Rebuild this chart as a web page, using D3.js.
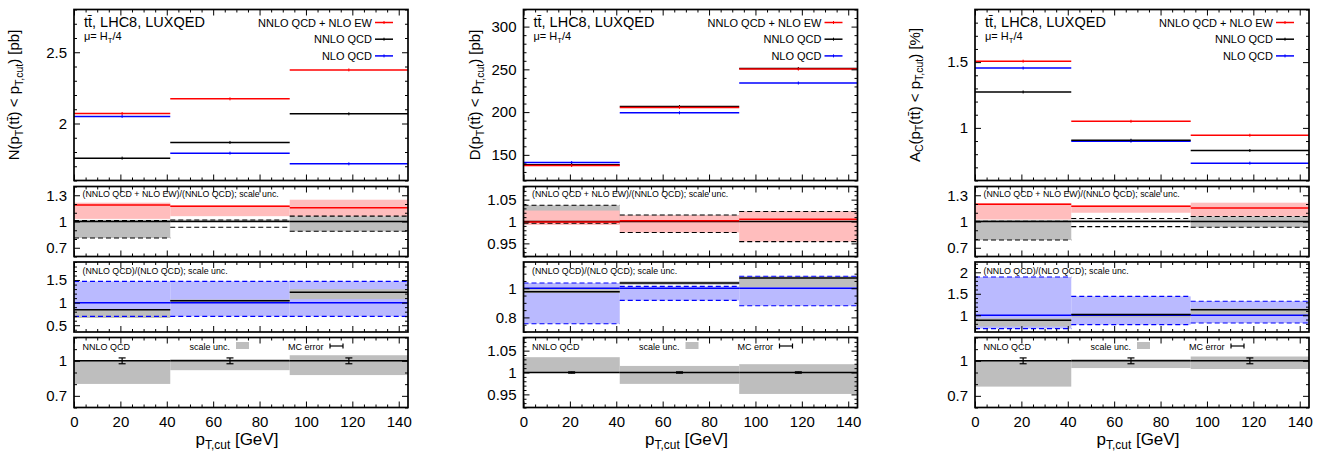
<!DOCTYPE html>
<html><head><meta charset="utf-8">
<script src="https://cdn.jsdelivr.net/npm/d3@7"></script>
<style>
body{margin:0;background:#fff}
svg{display:block}
text{font-family:"Liberation Sans",Arial,Helvetica,sans-serif;fill:#000}
</style>
</head><body>
<svg id="c" width="1327" height="454"></svg>
<script>
// ---------- shared data ----------
const binEdges = [0, 41.5, 93, 144];
const binCenters = [20.75, 67.25, 118.5];
const xTickValues = [0, 20, 40, 60, 80, 100, 120, 140];
const unity = [1, 1, 1];

// ---------- panel N (cross section) ----------
const nTopTicks = [2, 2.5];
const nNNLOEW = [2.07, 2.173, 2.376];
const nNNLO = [1.757, 1.867, 2.068];
const nNLO = [2.05, 1.792, 1.717];
const nR1Ticks = [0.7, 1, 1.3];
const nR1Ratio = [1.19, 1.173, 1.157];
const nR1RedLo = [1.03, 1.061, 1.061];
const nR1RedHi = [1.215, 1.185, 1.249];
const nR1GrayLo = [0.811, 1.0, 0.888];
const nR1GrayHi = [1.018, 1.02, 1.061];
const nR1DashLo = [0.811, 0.934, 0.888];
const nR1DashHi = [1.01, 1.018, 1.061];
const nR2Ticks = [0.5, 1, 1.5];
const nR2Ratio = [0.843, 1.044, 1.228];
const nR2GrayLo = [0.66, 1.02, 1.08];
const nR2GrayHi = [0.85, 1.07, 1.30];
const nR2BlueLo = [0.697, 0.697, 0.697];
const nR2BlueHi = [1.47, 1.47, 1.47];
const nR3Ticks = [0.7, 1];
const nR3Lo = [0.802, 0.92, 0.878];
const nR3Hi = [1.0, 1.014, 1.048];
const nR3Err = [0.025, 0.025, 0.025];

// ---------- panel D (denominator) ----------
const dTopTicks = [150, 200, 250, 300];
const dNNLOEW = [137.5, 205.5, 250.3];
const dNNLO = [138.5, 206.5, 251];
const dNLO = [141, 199.2, 234];
const dR1Ticks = [0.95, 1, 1.05];
const dR1Ratio = [0.999, 1.002, 1.005];
const dR1RedLo = [0.992, 0.975, 0.954];
const dR1RedHi = [1.025, 1.014, 1.023];
const dR1GrayLo = [0.997, 1.0, 1.0];
const dR1GrayHi = [1.037, 1.015, 1.023];
const dR1DashLo = [0.996, 0.975, 0.954];
const dR1DashHi = [1.037, 1.015, 1.023];
const dR2Ticks = [0.8, 1];
const dR2Ratio = [0.976, 1.036, 1.07];
const dR2GrayLo = [0.967, 1.024, 1.008];
const dR2GrayHi = [1.006, 1.047, 1.08];
const dR2BlueLo = [0.757, 0.917, 0.88];
const dR2BlueHi = [1.036, 1.013, 1.082];
const dR3Ticks = [0.95, 1, 1.05];
const dR3Lo = [1.0, 0.974, 0.951];
const dR3Hi = [1.035, 1.015, 1.019];
const dR3Err = [0.0015, 0.0015, 0.0015];

// ---------- panel A (asymmetry) ----------
const aTopTicks = [1, 1.5];
const aNNLOEW = [1.507, 1.05, 0.944];
const aNNLO = [1.273, 0.906, 0.828];
const aNLO = [1.455, 0.899, 0.732];
const aR1Ticks = [0.7, 1, 1.3];
const aR1Ratio = [1.196, 1.173, 1.153];
const aR1RedLo = [1.023, 1.10, 1.061];
const aR1RedHi = [1.211, 1.185, 1.215];
const aR1GrayLo = [0.788, 1.0, 0.934];
const aR1GrayHi = [1.018, 1.02, 1.058];
const aR1DashLo = [0.788, 0.942, 0.934];
const aR1DashHi = [1.003, 1.035, 1.058];
const aR2Ticks = [1, 1.5, 2];
const aR2Ratio = [0.884, 1.016, 1.13];
const aR2GrayLo = [0.74, 0.95, 1.0];
const aR2GrayHi = [0.93, 1.03, 1.16];
const aR2BlueLo = [0.689, 0.781, 0.82];
const aR2BlueHi = [1.89, 1.44, 1.326];
const aR3Ticks = [0.7, 1];
const aR3Lo = [0.779, 0.938, 0.93];
const aR3Hi = [1.0, 1.014, 1.037];
const aR3Err = [0.025, 0.025, 0.025];

// ---------- text ----------
const titleText = "tt\u0304, LHC8, LUXQED";
const muParts = [["\u03bc= H"], ["T", 1], ["/4"]];
const legendLabels = ["NNLO QCD + NLO EW", "NNLO QCD", "NLO QCD"];
const r1Label = "(NNLO QCD + NLO EW)/(NNLO QCD); scale unc.";
const r2Label = "(NNLO QCD)/(NLO QCD); scale unc.";
const r3Labels = ["NNLO QCD", "scale unc.", "MC error"];
const xTitleParts = [["p"], ["T,cut", 1], [" [GeV]"]];

// ---------- styles ----------
const RED = "#ff0000", BLUE = "#0000ff", PINK = "#ffbdbd", LBLUE = "#babaff", GRAY = "#bebebe";
const W = 334;
const rows = { top: [9.5, 180.5], r1: [186.5, 256.5], r2: [262, 332], r3: [337.5, 407.5] };

const panels = [
  { left: 74, ylab: [["N(p"], ["T", 1], ["(tt\u0304) < p"], ["T,cut", 1], [") [pb]"]], ylabX: -55,
    top: { dom: [1.6, 2.8], major: nTopTicks, minor: 0.1, ew: nNNLOEW, nnlo: nNNLO, nlo: nNLO },
    r1: { dom: [0.6, 1.4], major: nR1Ticks, minor: 0.1, ratio: nR1Ratio, redLo: nR1RedLo, redHi: nR1RedHi, grayLo: nR1GrayLo, grayHi: nR1GrayHi, dashLo: nR1DashLo, dashHi: nR1DashHi },
    r2: { dom: [0.35, 1.9], major: nR2Ticks, minor: 0.1, ratio: nR2Ratio, grayLo: nR2GrayLo, grayHi: nR2GrayHi, blueLo: nR2BlueLo, blueHi: nR2BlueHi },
    r3: { dom: [0.6, 1.2], major: nR3Ticks, minor: 0.1, lo: nR3Lo, hi: nR3Hi, err: nR3Err } },
  { left: 523.5, ylab: [["D(p"], ["T", 1], ["(tt\u0304) < p"], ["T,cut", 1], [") [pb]"]], ylabX: -43.5,
    top: { dom: [120, 320], major: dTopTicks, minor: 10, ew: dNNLOEW, nnlo: dNNLO, nlo: dNLO },
    r1: { dom: [0.92, 1.08], major: dR1Ticks, minor: 0.01, ratio: dR1Ratio, redLo: dR1RedLo, redHi: dR1RedHi, grayLo: dR1GrayLo, grayHi: dR1GrayHi, dashLo: dR1DashLo, dashHi: dR1DashHi },
    r2: { dom: [0.7, 1.18], major: dR2Ticks, minor: 0.05, ratio: dR2Ratio, grayLo: dR2GrayLo, grayHi: dR2GrayHi, blueLo: dR2BlueLo, blueHi: dR2BlueHi },
    r3: { dom: [0.92, 1.08], major: dR3Ticks, minor: 0.01, lo: dR3Lo, hi: dR3Hi, err: dR3Err } },
  { left: 975, ylab: [["A"], ["C", 1], ["(p"], ["T", 1], ["(tt\u0304) < p"], ["T,cut", 1], [") [%]"]], ylabX: -55.5,
    top: { dom: [0.6, 1.9], major: aTopTicks, minor: 0.1, ew: aNNLOEW, nnlo: aNNLO, nlo: aNLO },
    r1: { dom: [0.6, 1.4], major: aR1Ticks, minor: 0.1, ratio: aR1Ratio, redLo: aR1RedLo, redHi: aR1RedHi, grayLo: aR1GrayLo, grayHi: aR1GrayHi, dashLo: aR1DashLo, dashHi: aR1DashHi },
    r2: { dom: [0.61, 2.24], major: aR2Ticks, minor: 0.1, ratio: aR2Ratio, grayLo: aR2GrayLo, grayHi: aR2GrayHi, blueLo: aR2BlueLo, blueHi: aR2BlueHi },
    r3: { dom: [0.6, 1.2], major: aR3Ticks, minor: 0.1, lo: aR3Lo, hi: aR3Hi, err: aR3Err } }
];

const svg = d3.select("#c");
const fmt = d3.format("~g");

// subscript-aware text: the shift back to the baseline is put on the following tspan
function rich(sel, parts, size) {
  let shift = 0;
  parts.forEach(p => {
    const t = sel.append("tspan");
    if (p[1]) {
      t.attr("font-size", size * 0.7).attr("dy", size * 0.25 - shift);
      shift = size * 0.25;
    } else {
      t.attr("font-size", size);
      if (shift) t.attr("dy", -shift);
      shift = 0;
    }
    t.text(p[0]);
  });
}

function minorTicks(dom, step, major) {
  const out = [];
  const n0 = Math.ceil(dom[0] / step - 1e-6), n1 = Math.floor(dom[1] / step + 1e-6);
  for (let i = n0; i <= n1; i++) {
    const v = +(i * step).toFixed(6);
    if (!major.some(m => Math.abs(m - v) < step * 1e-3)) out.push(v);
  }
  return out;
}

function axes(g, x, y, yMajor, yMinorStep, xLabels) {
  const [x0, x1] = x.range();
  const [yb, yt] = y.range();
  const yMinor = minorTicks(y.domain(), yMinorStep, yMajor);
  const xMinor = minorTicks(x.domain(), 5, xTickValues);
  const style = s => { s.select(".domain").remove(); s.selectAll("line").attr("stroke", "#000").attr("stroke-width", 1); s.selectAll("text").attr("font-size", 15).attr("font-family", "Liberation Sans, Arial, sans-serif"); };
  g.append("g").attr("transform", `translate(${x0},0)`)
    .call(d3.axisLeft(y).tickValues(yMajor).tickSizeInner(-6).tickSizeOuter(0).tickPadding(7).tickFormat(fmt)).call(style);
  g.append("g").attr("transform", `translate(${x0},0)`)
    .call(d3.axisLeft(y).tickValues(yMinor).tickSizeInner(-3).tickSizeOuter(0).tickFormat("")).call(style);
  g.append("g").attr("transform", `translate(${x1},0)`)
    .call(d3.axisRight(y).tickValues(yMajor).tickSizeInner(-6).tickSizeOuter(0).tickFormat("")).call(style);
  g.append("g").attr("transform", `translate(${x1},0)`)
    .call(d3.axisRight(y).tickValues(yMinor).tickSizeInner(-3).tickSizeOuter(0).tickFormat("")).call(style);
  g.append("g").attr("transform", `translate(0,${yb})`)
    .call(d3.axisBottom(x).tickValues(xTickValues).tickSizeInner(-6).tickSizeOuter(0).tickPadding(9).tickFormat(xLabels ? fmt : "")).call(style);
  g.append("g").attr("transform", `translate(0,${yb})`)
    .call(d3.axisBottom(x).tickValues(xMinor).tickSizeInner(-3).tickSizeOuter(0).tickFormat("")).call(style);
  g.append("g").attr("transform", `translate(0,${yt})`)
    .call(d3.axisTop(x).tickValues(xTickValues).tickSizeInner(-6).tickSizeOuter(0).tickFormat("")).call(style);
  g.append("g").attr("transform", `translate(0,${yt})`)
    .call(d3.axisTop(x).tickValues(xMinor).tickSizeInner(-3).tickSizeOuter(0).tickFormat("")).call(style);
  // remove empty tick label texts
  g.selectAll("text").filter(function () { return this.textContent === ""; }).remove();
  g.append("rect").attr("x", x0).attr("y", yt).attr("width", x1 - x0).attr("height", yb - yt)
    .attr("fill", "none").attr("stroke", "#000").attr("stroke-width", 1.7);
}

function bands(g, x, y, lo, hi, fill) {
  g.append("g").selectAll("rect").data(d3.range(lo.length)).join("rect")
    .attr("x", i => x(binEdges[i])).attr("width", i => x(binEdges[i + 1]) - x(binEdges[i]))
    .attr("y", i => y(Math.max(lo[i], hi[i]))).attr("height", i => Math.abs(y(lo[i]) - y(hi[i])))
    .attr("fill", fill);
}
function steps(g, x, y, vals, color, w, dash) {
  g.append("g").selectAll("line").data(d3.range(vals.length)).join("line")
    .attr("x1", i => x(binEdges[i])).attr("x2", i => x(binEdges[i + 1]))
    .attr("y1", i => y(vals[i])).attr("y2", i => y(vals[i]))
    .attr("stroke", color).attr("stroke-width", w).attr("stroke-dasharray", dash || null);
}
function centerMarks(g, x, y, vals, color) {
  g.append("g").selectAll("line").data(d3.range(vals.length)).join("line")
    .attr("x1", i => x(binCenters[i])).attr("x2", i => x(binCenters[i]))
    .attr("y1", i => y(vals[i]) - 1.5).attr("y2", i => y(vals[i]) + 1.5)
    .attr("stroke", color).attr("stroke-width", 1);
}

panels.forEach(p => {
  const g = svg.append("g");
  const x = d3.scaleLinear().domain([binEdges[0], binEdges[3]]).range([p.left, p.left + W]);
  const R = p.left + W;

  // ---- top ----
  {
    const [yt, yb] = rows.top;
    const y = d3.scaleLinear().domain(p.top.dom).range([yb, yt]);
    const sub = g.append("g");
    steps(sub, x, y, p.top.nlo, BLUE, 1.5);
    steps(sub, x, y, p.top.nnlo, "#000", 1.5);
    steps(sub, x, y, p.top.ew, RED, 1.5);
    centerMarks(sub, x, y, p.top.nlo, BLUE);
    centerMarks(sub, x, y, p.top.nnlo, "#000");
    centerMarks(sub, x, y, p.top.ew, RED);
    axes(sub, x, y, p.top.major, p.top.minor, false);
    sub.append("text").attr("x", p.left + 10).attr("y", 26.5).attr("font-size", 14.5).text(titleText);
    rich(sub.append("text").attr("x", p.left + 10).attr("y", 40), muParts, 11);
    const cols = [RED, "#000", BLUE];
    legendLabels.forEach((t, i) => {
      const by = 26.5 + i * 16.7;
      sub.append("text").attr("x", R - 36).attr("y", by).attr("text-anchor", "end").attr("font-size", 11).text(t);
      sub.append("line").attr("x1", R - 33).attr("x2", R - 15).attr("y1", by - 4).attr("y2", by - 4)
        .attr("stroke", cols[i]).attr("stroke-width", 1.5);
      sub.append("line").attr("x1", R - 24).attr("x2", R - 24).attr("y1", by - 5.5).attr("y2", by - 2.5)
        .attr("stroke", cols[i]).attr("stroke-width", 1);
    });
    const yl = sub.append("text").attr("transform", `translate(${p.left + p.ylabX},${(yt + yb) / 2}) rotate(-90)`)
      .attr("text-anchor", "middle");
    rich(yl, p.ylab, 15);
  }
  // ---- ratio 1 ----
  {
    const [yt, yb] = rows.r1;
    const y = d3.scaleLinear().domain(p.r1.dom).range([yb, yt]);
    const sub = g.append("g");
    bands(sub, x, y, p.r1.grayLo, p.r1.grayHi, GRAY);
    bands(sub, x, y, p.r1.redLo, p.r1.redHi, PINK);
    steps(sub, x, y, p.r1.dashHi, "#000", 1.1, "5,3");
    steps(sub, x, y, p.r1.dashLo, "#000", 1.1, "5,3");
    steps(sub, x, y, unity, "#000", 1.5);
    steps(sub, x, y, p.r1.ratio, RED, 1.5);
    axes(sub, x, y, p.r1.major, p.r1.minor, false);
    sub.append("text").attr("x", p.left + 8.5).attr("y", yt + 10.5).attr("font-size", 8.8).text(r1Label);
  }
  // ---- ratio 2 ----
  {
    const [yt, yb] = rows.r2;
    const y = d3.scaleLinear().domain(p.r2.dom).range([yb, yt]);
    const sub = g.append("g");
    bands(sub, x, y, p.r2.blueLo, p.r2.blueHi, LBLUE);
    bands(sub, x, y, p.r2.grayLo, p.r2.grayHi, GRAY);
    steps(sub, x, y, p.r2.blueHi, BLUE, 1.1, "5,3");
    steps(sub, x, y, p.r2.blueLo, BLUE, 1.1, "5,3");
    steps(sub, x, y, unity, BLUE, 1.5);
    steps(sub, x, y, p.r2.ratio, "#000", 1.5);
    axes(sub, x, y, p.r2.major, p.r2.minor, false);
    sub.append("text").attr("x", p.left + 8.5).attr("y", yt + 11.5).attr("font-size", 8.8).text(r2Label);
  }
  // ---- ratio 3 ----
  {
    const [yt, yb] = rows.r3;
    const y = d3.scaleLinear().domain(p.r3.dom).range([yb, yt]);
    const sub = g.append("g");
    bands(sub, x, y, p.r3.lo, p.r3.hi, GRAY);
    steps(sub, x, y, unity, "#000", 1.5);
    const eb = sub.append("g").selectAll("g").data(d3.range(3)).join("g").attr("stroke", "#000").attr("stroke-width", 1.2);
    eb.append("line").attr("x1", i => x(binCenters[i])).attr("x2", i => x(binCenters[i]))
      .attr("y1", i => y(1 - p.r3.err[i])).attr("y2", i => y(1 + p.r3.err[i]));
    eb.append("line").attr("x1", i => x(binCenters[i]) - 3.5).attr("x2", i => x(binCenters[i]) + 3.5)
      .attr("y1", i => y(1 - p.r3.err[i])).attr("y2", i => y(1 - p.r3.err[i]));
    eb.append("line").attr("x1", i => x(binCenters[i]) - 3.5).attr("x2", i => x(binCenters[i]) + 3.5)
      .attr("y1", i => y(1 + p.r3.err[i])).attr("y2", i => y(1 + p.r3.err[i]));
    axes(sub, x, y, p.r3.major, p.r3.minor, true);
    const by = yt + 12.5;
    sub.append("text").attr("x", p.left + 8.5).attr("y", by).attr("font-size", 9).text(r3Labels[0]);
    sub.append("text").attr("x", p.left + 156).attr("y", by).attr("text-anchor", "end").attr("font-size", 9).text(r3Labels[1]);
    sub.append("rect").attr("x", p.left + 162).attr("y", by - 8).attr("width", 13).attr("height", 7).attr("fill", GRAY);
    sub.append("text").attr("x", p.left + 249.5).attr("y", by).attr("text-anchor", "end").attr("font-size", 9).text(r3Labels[2]);
    const ly = by - 4;
    sub.append("line").attr("x1", p.left + 256).attr("x2", p.left + 269).attr("y1", ly).attr("y2", ly).attr("stroke", "#000").attr("stroke-width", 1.2);
    sub.append("line").attr("x1", p.left + 256).attr("x2", p.left + 256).attr("y1", ly - 2.5).attr("y2", ly + 2.5).attr("stroke", "#000").attr("stroke-width", 1.2);
    sub.append("line").attr("x1", p.left + 269).attr("x2", p.left + 269).attr("y1", ly - 2.5).attr("y2", ly + 2.5).attr("stroke", "#000").attr("stroke-width", 1.2);
    const xt = sub.append("text").attr("x", p.left + W / 2 - 4).attr("y", 445).attr("text-anchor", "middle");
    rich(xt, xTitleParts, 17);
  }
});
</script>
</body></html>
